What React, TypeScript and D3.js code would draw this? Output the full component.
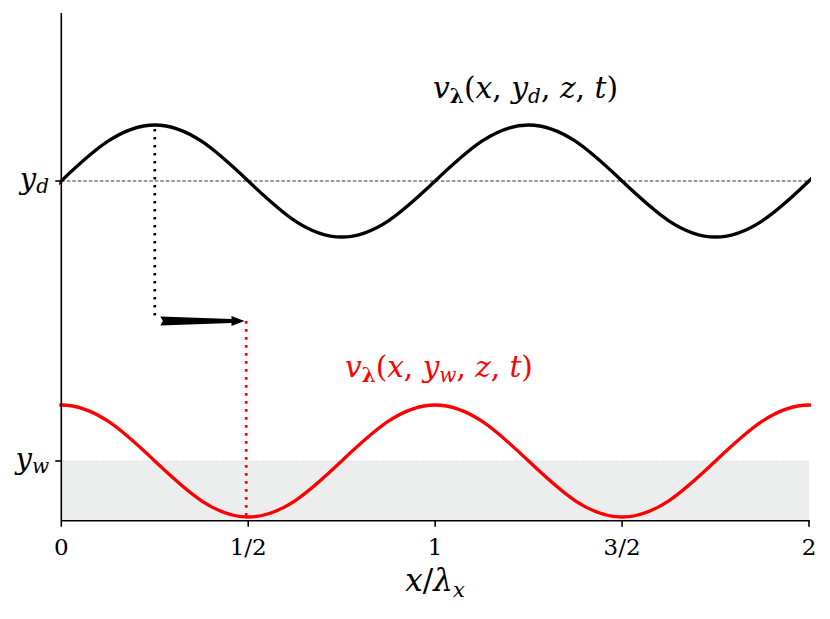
import React from "react";
import * as d3 from "d3";

const xs = [-0.25, -0.125, 0, 0.125, 0.25, 0.375, 0.5, 0.625, 0.75, 0.875, 1, 1.125, 1.25, 1.375, 1.5, 1.625, 1.75, 1.875, 2, 2.125, 2.25];
const yD = 5;
const yW = 0;
const blackVals = [4, 4.29, 5, 5.71, 6, 5.71, 5, 4.29, 4, 4.29, 5, 5.71, 6, 5.71, 5, 4.29, 4, 4.29, 5, 5.71, 6];
const redVals = [0, 0.71, 1, 0.71, 0, -0.71, -1, -0.71, 0, 0.71, 1, 0.71, 0, -0.71, -1, -0.71, 0, 0.71, 1, 0.71, 0];
const xTicks = [0, 0.5, 1, 1.5, 2];
const xTickLabels = ["0", "1/2", "1", "3/2", "2"];
const arrowX = [0.265, 0.49];
const arrowY = 2.5;
const blackDropX = 0.25;
const redDropX = 0.5;

const W = 830;
const H = 619;
const SERIF = '"DejaVu Serif"';

export default function App() {
  const x = d3.scaleLinear().domain([0, 2]).range([61.3, 809]);
  const y = d3.scaleLinear().domain([-1.066, 8]).range([520.7, 13]);

  const line = d3
    .line<number>()
    .x((_, i) => x(xs[i]))
    .y((d) => y(d))
    .curve(d3.curveNatural);

  const ax0 = x(arrowX[0]);
  const ax1 = x(arrowX[1]);
  const ay = y(arrowY);
  const hx = ax1 - 13;
  const arrowPts = [
    [ax0, ay - 4.5],
    [hx, ay - 2],
    [hx, ay - 5],
    [ax1, ay],
    [hx, ay + 5],
    [hx, ay + 2],
    [ax0, ay + 4.5],
    [ax0 + 2.5, ay],
  ]
    .map((p) => p.join(","))
    .join(" ");

  const x0 = x(0);
  const x2 = x(2);
  const yb = y(-1.066);
  const ts: React.CSSProperties = { fontFamily: SERIF };

  return (
    <svg
      width={W}
      height={H}
      style={{ position: "absolute", left: 0, top: 0, background: "#fff", fontFamily: SERIF }}
    >
      <defs>
        <clipPath id="plotclip">
          <rect x={x0 - 2} y={0} width={x2 - x0 + 4} height={H} />
        </clipPath>
      </defs>
      {/* shaded wall region */}
      <rect x={x0} y={y(yW)} width={x2 - x0} height={yb - y(yW)} fill="#eceeed" />
      <line x1={x0} x2={x2} y1={y(yW)} y2={y(yW)} stroke="#dcdedd" strokeWidth={0.8} strokeDasharray="3,2" />

      {/* dashed y_d line */}
      <line x1={x0} x2={x2} y1={y(yD)} y2={y(yD)} stroke="#000" strokeWidth={0.8} strokeDasharray="3.5,2" />

      {/* curves */}
      <g clipPath="url(#plotclip)">
        <path d={line(blackVals) || ""} fill="none" stroke="#000" strokeWidth={3.3} />
        <path d={line(redVals) || ""} fill="none" stroke="#ff0000" strokeWidth={3.3} />
      </g>

      {/* dotted drops */}
      <line
        x1={x(blackDropX)}
        x2={x(blackDropX)}
        y1={y(5.93)}
        y2={ay}
        stroke="#000"
        strokeWidth={2.7}
        strokeDasharray="2.7,5.3"
      />
      <line
        x1={x(redDropX) - 2}
        x2={x(redDropX) - 2}
        y1={ay}
        y2={y(-1)}
        stroke="#ff0000"
        strokeWidth={2.7}
        strokeDasharray="2.7,5.3"
      />

      {/* arrow */}
      <polygon points={arrowPts} fill="#000" />

      {/* axes */}
      <line x1={x0} x2={x0} y1={13} y2={yb} stroke="#000" strokeWidth={1.6} />
      <line x1={x0} x2={x2 + 0.8} y1={yb} y2={yb} stroke="#000" strokeWidth={1.6} />
      {[yD, yW].map((v) => (
        <line key={v} x1={x0 - 6} x2={x0} y1={y(v)} y2={y(v)} stroke="#000" strokeWidth={1.6} />
      ))}
      {xTicks.map((t, i) => (
        <g key={t}>
          <line x1={x(t)} x2={x(t)} y1={yb} y2={yb + 6} stroke="#000" strokeWidth={1.6} />
          <text x={x(t)} y={555} textAnchor="middle" fontSize={23} style={ts}>
            {xTickLabels[i]}
          </text>
        </g>
      ))}

      {/* y tick labels */}
      <text x={49} y={y(yD) + 8} textAnchor="end" fontSize={29} fontStyle="italic" style={ts}>
        y<tspan fontSize={20} dy={4}>d</tspan>
      </text>
      <text x={49} y={y(yW) + 8} textAnchor="end" fontSize={29} fontStyle="italic" style={ts}>
        y<tspan fontSize={20} dy={4}>w</tspan>
      </text>

      {/* x label */}
      <text x={435} y={591} textAnchor="middle" fontSize={31} style={ts}>
        <tspan fontStyle="italic">x</tspan>/<tspan fontStyle="italic">λ</tspan>
        <tspan fontSize={21} fontStyle="italic" dy={6}>x</tspan>
      </text>

      {/* curve labels */}
      <text x={433} y={98} fontSize={29.8} style={ts}>
        <tspan fontStyle="italic">v</tspan>
        <tspan fontSize={20} fontWeight="bold" dy={5}>λ</tspan>
        <tspan dy={-5}>(</tspan>
        <tspan fontStyle="italic">x</tspan>, <tspan fontStyle="italic">y</tspan>
        <tspan fontSize={20} fontStyle="italic" dy={5}>d</tspan>
        <tspan dy={-5}>, </tspan>
        <tspan fontStyle="italic">z</tspan>, <tspan fontStyle="italic">t</tspan>)
      </text>
      <text x={345} y={377} fontSize={29.5} fill="#ff0000" style={ts}>
        <tspan fontStyle="italic">v</tspan>
        <tspan fontSize={20} fontWeight="bold" dy={5}>λ</tspan>
        <tspan dy={-5}>(</tspan>
        <tspan fontStyle="italic">x</tspan>, <tspan fontStyle="italic">y</tspan>
        <tspan fontSize={20} fontStyle="italic" dy={5}>w</tspan>
        <tspan dy={-5}>, </tspan>
        <tspan fontStyle="italic">z</tspan>, <tspan fontStyle="italic">t</tspan>)
      </text>
    </svg>
  );
}
